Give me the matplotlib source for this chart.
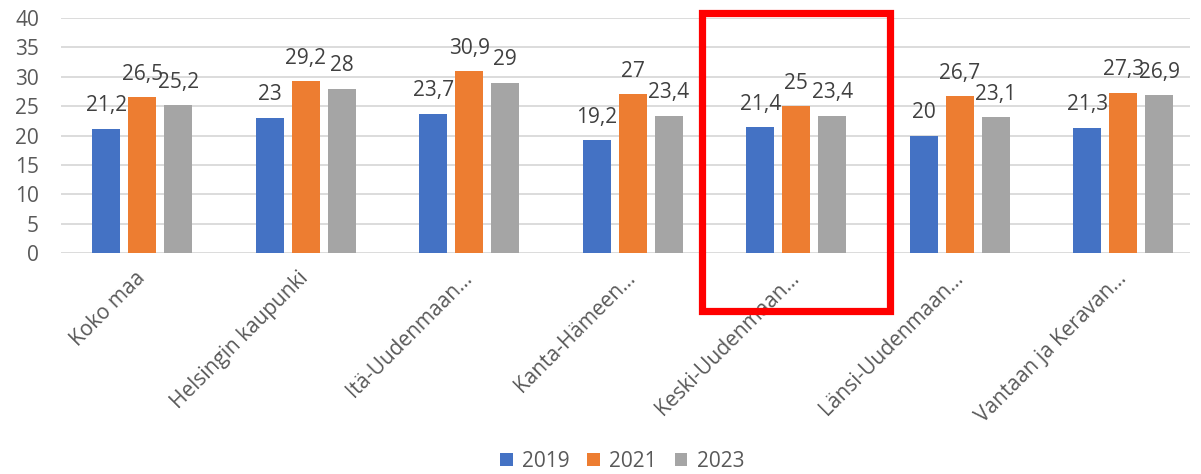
import matplotlib
matplotlib.use('Agg')
import matplotlib.pyplot as plt
import numpy as np
from matplotlib.patches import Rectangle

categories = ['Koko maa', 'Helsingin kaupunki', 'Itä-Uudenmaan…', 'Kanta-Hämeen…',
              'Keski-Uudenmaan…', 'Länsi-Uudenmaan…', 'Vantaan ja Keravan…']
years = ['2019', '2021', '2023']
v2019 = [21.2, 23, 23.7, 19.2, 21.4, 20, 21.3]
v2021 = [26.5, 29.2, 30.9, 27, 25, 26.7, 27.3]
v2023 = [25.2, 28, 29, 23.4, 23.4, 23.1, 26.9]
colors = ['#4472C4', '#ED7D31', '#A5A5A5']
highlight = 4  # Keski-Uudenmaan

plt.rcParams['font.family'] = ['Open Sans', 'DejaVu Sans']

fig = plt.figure(figsize=(12.01, 4.74), dpi=100)
ax = fig.add_axes([0.051, 0.466, 0.94, 0.496])

x = np.arange(len(categories))
w = 0.171
step = 0.22
for i, (vals, yr) in enumerate(zip([v2019, v2021, v2023], years)):
    bars = ax.bar(x + (i - 1) * step, vals, w, color=colors[i], label=yr, zorder=3)
    ax.bar_label(bars, labels=[f'{v:g}'.replace('.', ',') for v in vals],
                 padding=9, fontsize=15, color='#404040')

ax.set_ylim(0, 40)
ax.set_xlim(-0.495, 6.41)
ax.set_yticks(range(0, 41, 5))
ax.yaxis.grid(True, color='#D9D9D9', linewidth=1.3, zorder=0)
ax.set_axisbelow(True)
for s in ax.spines.values():
    s.set_visible(False)
ax.tick_params(axis='both', length=0, labelsize=15, colors='#595959')
ax.tick_params(axis='y', pad=16)
ax.tick_params(axis='x', pad=16)
ax.set_xticks(x)
ax.set_xticklabels(categories, rotation=45, ha='right', va='center', rotation_mode='anchor')

# red highlight box
ax.add_patch(Rectangle((highlight - 0.575, -9.8), 1.15, 50.57, fill=False,
                       edgecolor='#FF0000', linewidth=5.2, clip_on=False, zorder=5))

fig.legend(loc='lower center', bbox_to_anchor=(0.518, -0.035), ncol=3, frameon=False,
           fontsize=15, handlelength=0.6, handleheight=0.6, handletextpad=0.45,
           columnspacing=0.85, labelcolor='#595959')

fig.savefig('out.png', dpi=100)
